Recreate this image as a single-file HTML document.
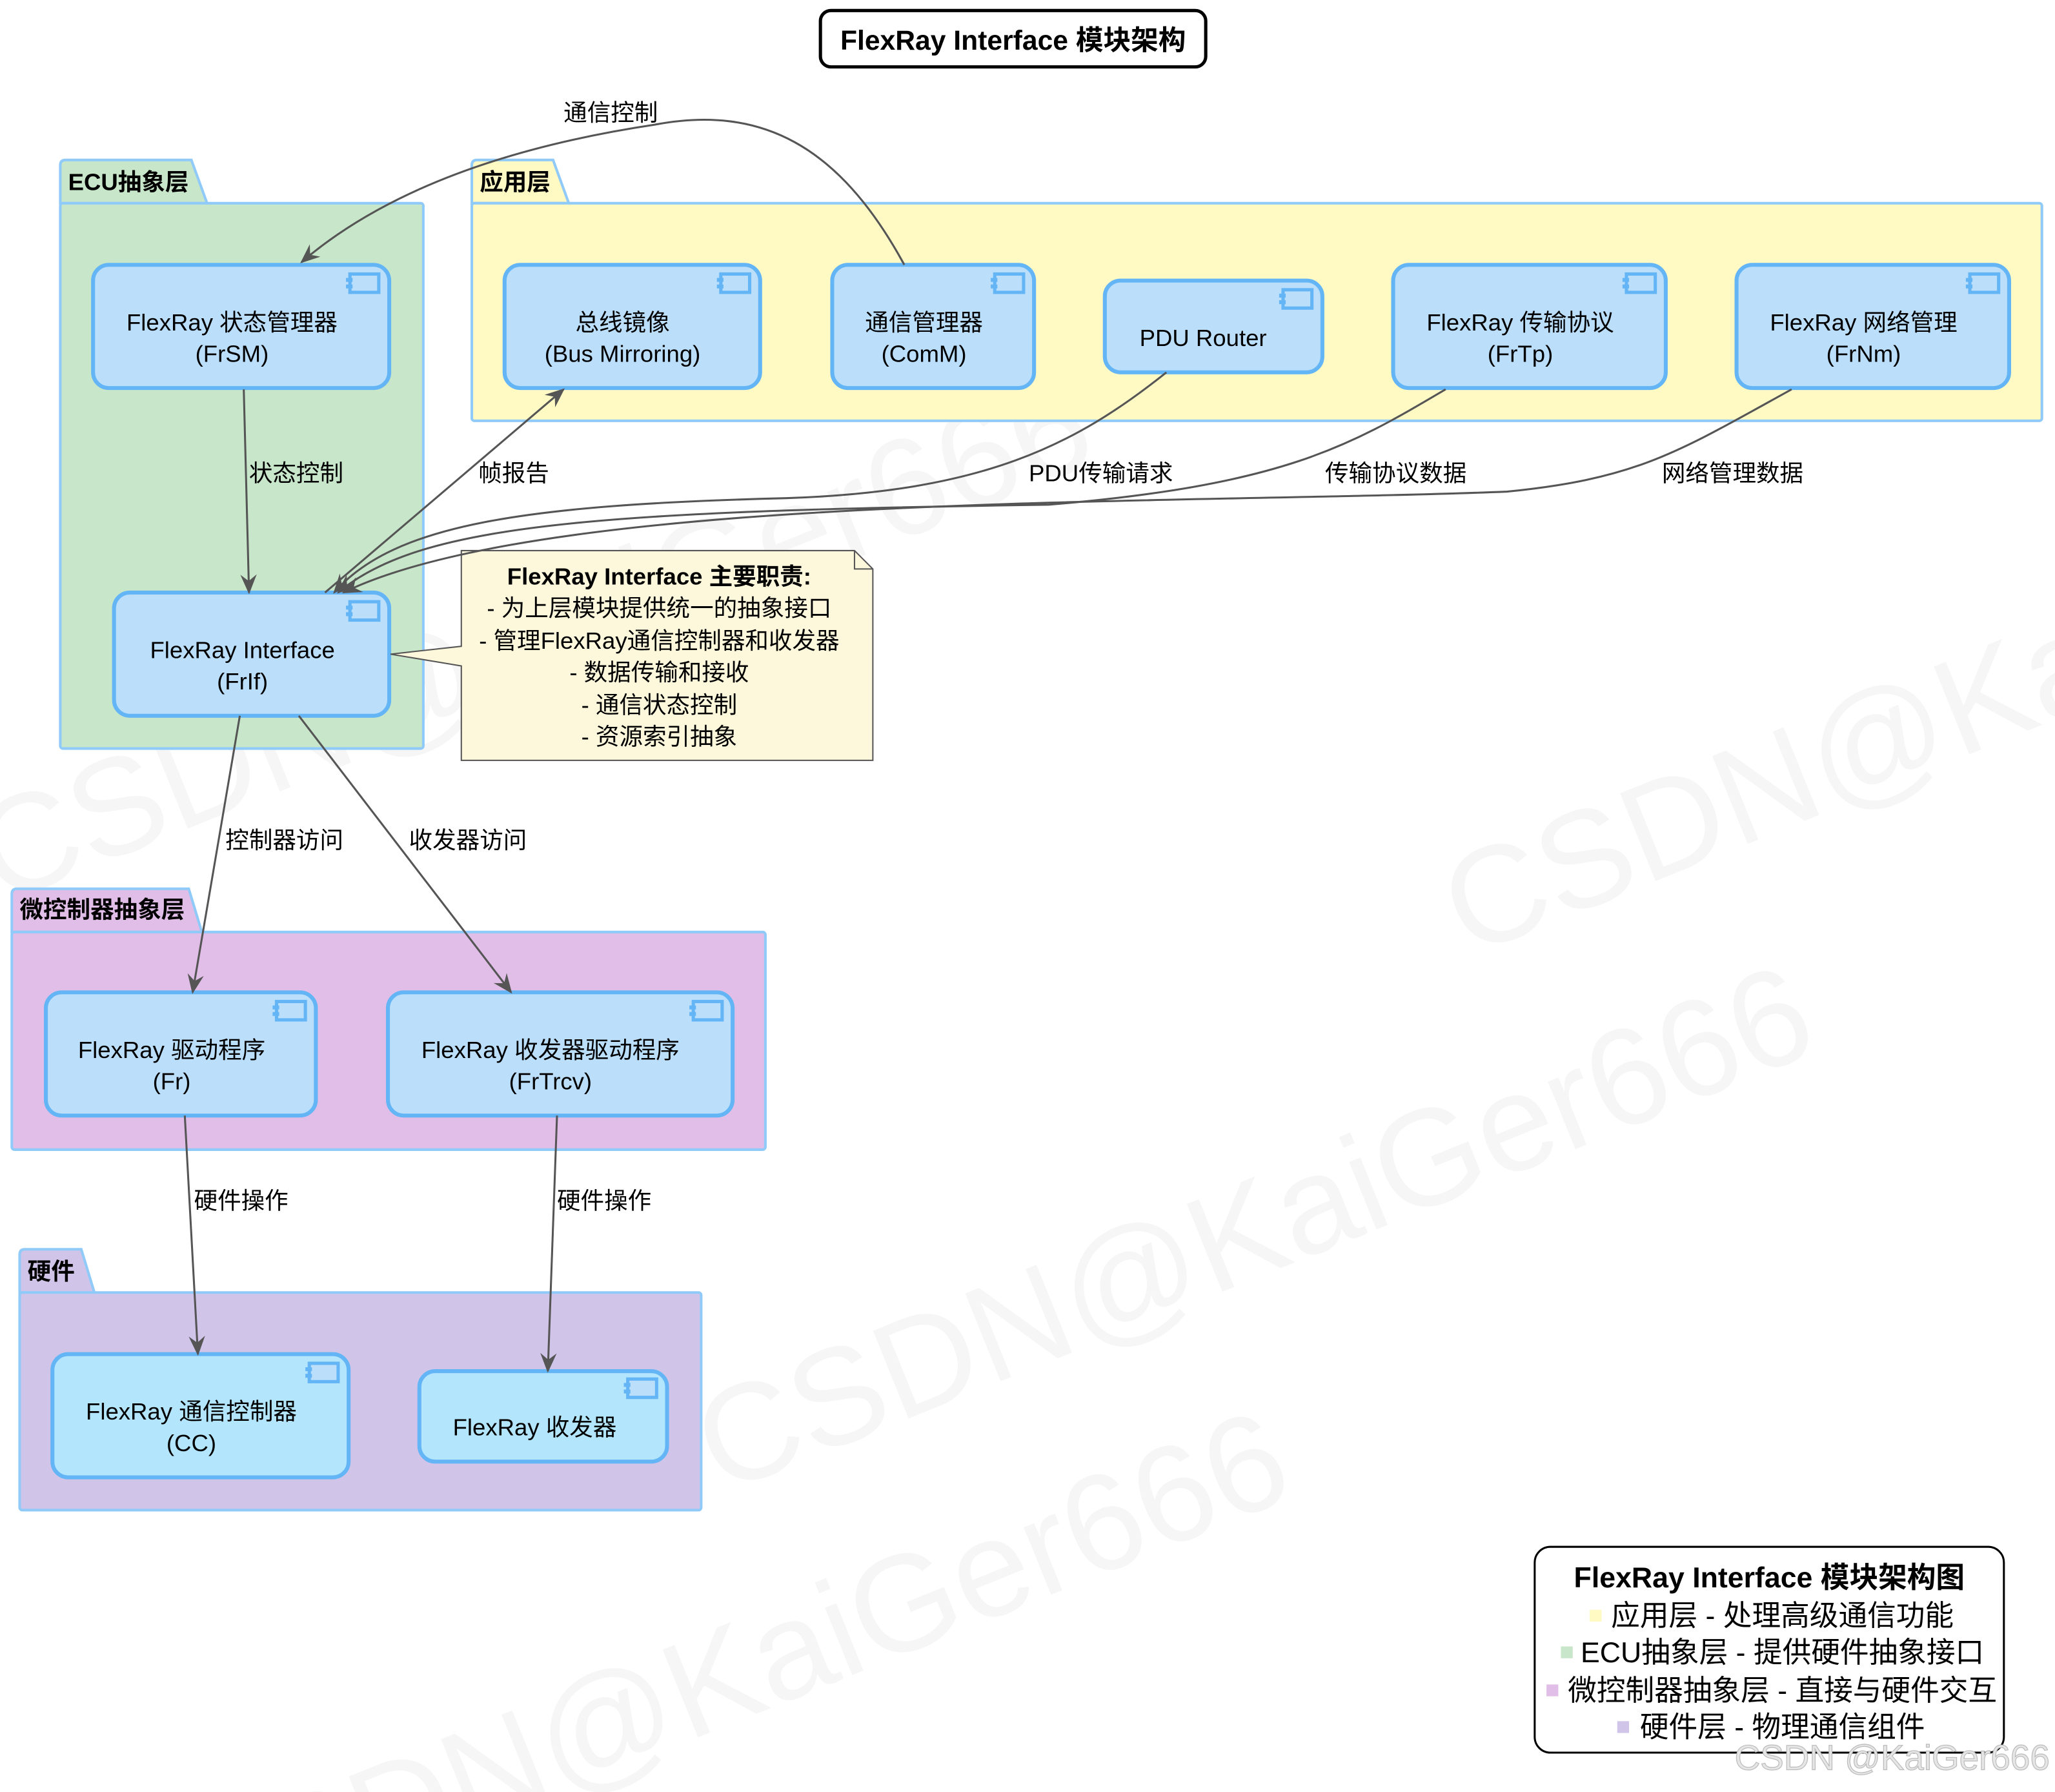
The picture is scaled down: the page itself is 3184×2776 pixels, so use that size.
<!DOCTYPE html>
<html><head><meta charset="utf-8"><style>
html,body{margin:0;padding:0;background:#fff;overflow:hidden;width:3184px;height:2776px;}
svg{display:block;}
text{font-family:"Liberation Sans","Noto Sans CJK SC",sans-serif;fill:#000;}
</style></head><body>
<svg width="3184" height="2776" viewBox="0 0 1568 1367" xmlns="http://www.w3.org/2000/svg">
<defs>
<marker id="ah" viewBox="0 0 12 10" refX="11" refY="5" markerWidth="15" markerHeight="13" orient="auto-start-reverse" markerUnits="userSpaceOnUse">
<path d="M0,0 L12,5 L0,10 L4,5 Z" fill="#555"/></marker>
<g id="ic"><rect x="0" y="0" width="22" height="14" fill="#BBDEFB" stroke="#64B5F6" stroke-width="2.5"/><rect x="-3" y="3" width="5" height="3" fill="#64B5F6"/><rect x="-3" y="8" width="5" height="3" fill="#64B5F6"/></g>
</defs>
<!-- watermarks -->
<g font-size="105" opacity="0.5">
<text x="0" y="690" transform="rotate(-22 0 690)" style="fill:#eeeeee">CSDN@KaiGer666</text>
<text x="550" y="1140" transform="rotate(-22 550 1140)" style="fill:#eeeeee">CSDN@KaiGer666</text>
<text x="1120" y="730" transform="rotate(-22 1120 730)" style="fill:#eeeeee">CSDN@KaiGer666</text>
<text x="150" y="1480" transform="rotate(-22 150 1480)" style="fill:#eeeeee">CSDN@KaiGer666</text>
</g>
<!-- title -->
<rect x="626" y="8" width="294" height="43" rx="8" fill="#fff" stroke="#000" stroke-width="2.5"/>
<text x="773" y="38" font-size="21" font-weight="bold" text-anchor="middle">FlexRay Interface 模块架构</text>
<!-- packages -->
<g stroke="#90CAF9" stroke-width="2">
<path d="M46,155 L46,126 Q46,122 50,122 L146,122 L158,155 Z" fill="#C8E6C9"/>
<rect x="46" y="155" width="277" height="416" rx="2" fill="#C8E6C9"/>
<path d="M360,155 L360,126 Q360,122 364,122 L422,122 L434,155 Z" fill="#FFF9C4"/>
<rect x="360" y="155" width="1198" height="166" rx="2" fill="#FFF9C4"/>
<path d="M9,711 L9,682 Q9,678 13,678 L144,678 L154,711 Z" fill="#E1BEE7"/>
<rect x="9" y="711" width="575" height="166" rx="2" fill="#E1BEE7"/>
<path d="M15,986 L15,957 Q15,953 19,953 L62,953 L72,986 Z" fill="#D1C4E9"/>
<rect x="15" y="986" width="520" height="166" rx="2" fill="#D1C4E9"/>
</g>
<g font-size="18" font-weight="bold">
<text x="52" y="145">ECU抽象层</text>
<text x="366" y="145">应用层</text>
<text x="15" y="700">微控制器抽象层</text>
<text x="21" y="976">硬件</text>
</g>
<!-- components -->
<g stroke="#64B5F6" stroke-width="3" fill="#BBDEFB">
<rect x="71" y="202" width="226" height="94" rx="12"/>
<rect x="385" y="202" width="195" height="94" rx="12"/>
<rect x="635" y="202" width="154" height="94" rx="12"/>
<rect x="843" y="214" width="166" height="70" rx="12"/>
<rect x="1063" y="202" width="208" height="94" rx="12"/>
<rect x="1325" y="202" width="208" height="94" rx="12"/>
<rect x="87" y="452" width="210" height="94" rx="12"/>
<rect x="35" y="757" width="206" height="94" rx="12"/>
<rect x="296" y="757" width="263" height="94" rx="12"/>
<rect x="40" y="1033" width="226" height="94" rx="12" fill="#B3E5FC"/>
<rect x="320" y="1046" width="189" height="69" rx="12" fill="#B3E5FC"/>
</g>
<use href="#ic" x="267" y="209"/><use href="#ic" x="550" y="209"/><use href="#ic" x="759" y="209"/>
<use href="#ic" x="979" y="221"/><use href="#ic" x="1241" y="209"/><use href="#ic" x="1503" y="209"/>
<use href="#ic" x="267" y="459"/><use href="#ic" x="211" y="764"/><use href="#ic" x="529" y="764"/>
<use href="#ic" x="236" y="1040"/><use href="#ic" x="479" y="1052"/>
<g font-size="18" text-anchor="middle">
<text x="177" y="252">FlexRay 状态管理器</text><text x="177" y="276">(FrSM)</text>
<text x="475" y="252">总线镜像</text><text x="475" y="276">(Bus Mirroring)</text>
<text x="705" y="252">通信管理器</text><text x="705" y="276">(ComM)</text>
<text x="918" y="264">PDU Router</text>
<text x="1160" y="252">FlexRay 传输协议</text><text x="1160" y="276">(FrTp)</text>
<text x="1422" y="252">FlexRay 网络管理</text><text x="1422" y="276">(FrNm)</text>
<text x="185" y="502">FlexRay Interface</text><text x="185" y="526">(FrIf)</text>
<text x="131" y="807">FlexRay 驱动程序</text><text x="131" y="831">(Fr)</text>
<text x="420" y="807">FlexRay 收发器驱动程序</text><text x="420" y="831">(FrTrcv)</text>
<text x="146" y="1083">FlexRay 通信控制器</text><text x="146" y="1107">(CC)</text>
<text x="408" y="1095">FlexRay 收发器</text>
</g>
<!-- note -->
<path d="M352,420 L652,420 L666,434 L666,580 L352,580 L352,508 L298,499 L352,493 Z" fill="#FDF7DC" stroke="#555" stroke-width="1"/>
<path d="M652,420 L652,434 L666,434" fill="none" stroke="#555" stroke-width="1"/>
<g font-size="18" text-anchor="middle">
<text x="503" y="446" font-weight="bold">FlexRay Interface 主要职责:</text>
<text x="503" y="470">- 为上层模块提供统一的抽象接口</text>
<text x="503" y="495">- 管理FlexRay通信控制器和收发器</text>
<text x="503" y="519">- 数据传输和接收</text>
<text x="503" y="544">- 通信状态控制</text>
<text x="503" y="568">- 资源索引抽象</text>
</g>
<!-- edges -->
<g fill="none" stroke="#555" stroke-width="1.5">
<path d="M690,202 C640,110 580,80 500,95 C400,110 300,140 230,200" marker-end="url(#ah)"/>
<path d="M186,297 L190,452" marker-end="url(#ah)"/>
<path d="M248,452 L430,297" marker-end="url(#ah)"/>
<path d="M890,284 C820,340 750,375 600,380 C400,385 300,400 255,452" marker-end="url(#ah)"/>
<path d="M1103,297 C1030,340 980,370 800,385 C450,390 320,400 258,452" marker-end="url(#ah)"/>
<path d="M1367,297 C1280,345 1250,365 1150,375 C900,385 420,375 262,452" marker-end="url(#ah)"/>
<path d="M183,546 L147,757" marker-end="url(#ah)"/>
<path d="M228,546 L390,757" marker-end="url(#ah)"/>
<path d="M141,851 L151,1033" marker-end="url(#ah)"/>
<path d="M425,851 L418,1046" marker-end="url(#ah)"/>
</g>
<g font-size="18" text-anchor="middle">
<text x="466" y="92">通信控制</text>
<text x="226" y="367">状态控制</text>
<text x="392" y="367">帧报告</text>
<text x="840" y="367">PDU传输请求</text>
<text x="1065" y="367">传输协议数据</text>
<text x="1322" y="367">网络管理数据</text>
<text x="217" y="647">控制器访问</text>
<text x="357" y="647">收发器访问</text>
<text x="184" y="922">硬件操作</text>
<text x="461" y="922">硬件操作</text>
</g>
<!-- legend -->
<rect x="1171" y="1180" width="358" height="157" rx="12" fill="#fff" stroke="#000" stroke-width="1.5"/>
<g font-size="22" text-anchor="middle">
<text x="1350" y="1211" font-weight="bold">FlexRay Interface 模块架构图</text>
<text x="1360" y="1240">应用层 - 处理高级通信功能</text>
<text x="1360" y="1268">ECU抽象层 - 提供硬件抽象接口</text>
<text x="1360" y="1297">微控制器抽象层 - 直接与硬件交互</text>
<text x="1360" y="1325">硬件层 - 物理通信组件</text>
</g>
<rect x="1213" y="1228" width="9" height="9" fill="#FFF9C4"/>
<rect x="1191" y="1256" width="9" height="9" fill="#C8E6C9"/>
<rect x="1180" y="1285" width="9" height="9" fill="#E1BEE7"/>
<rect x="1234" y="1313" width="9" height="9" fill="#D1C4E9"/>
<text x="1564" y="1350" font-size="27" text-anchor="end" style="fill:#e6e6e6;stroke:#bbb;stroke-width:0.6">CSDN @KaiGer666</text>
</svg>
</body></html>
